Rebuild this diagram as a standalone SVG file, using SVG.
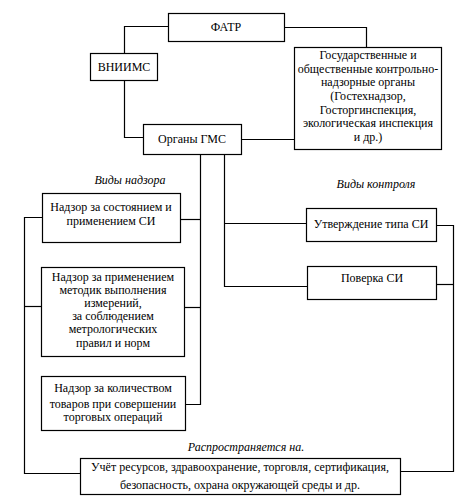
<svg xmlns="http://www.w3.org/2000/svg" width="469" height="503" viewBox="0 0 469 503">
<style>
.b{fill:#fff;stroke:#000;stroke-width:1.2}
.l{fill:none;stroke:#000;stroke-width:1.2}
text{font-family:"Liberation Serif","Times New Roman",serif;font-size:12px;fill:#000;text-anchor:middle}
.i{font-style:italic}
</style>
<rect width="469" height="503" fill="#fff"/>
<g id="connectors">
<polyline class="l" points="168,26.5 124.5,26.5 124.5,53"/>
<polyline class="l" points="124.5,80 124.5,137.5 143,137.5"/>
<polyline class="l" points="284,27.5 366.5,27.5 366.5,47"/>
<line class="l" x1="241" y1="139.5" x2="294" y2="139.5"/>
<polyline class="l" points="200.5,154 200.5,404.5 185,404.5"/>
<line class="l" x1="180" y1="219.5" x2="200.5" y2="219.5"/>
<line class="l" x1="184" y1="307.5" x2="200.5" y2="307.5"/>
<polyline class="l" points="224.5,154 224.5,286.5 307,286.5"/>
<line class="l" x1="224.5" y1="223.5" x2="306" y2="223.5"/>
<polyline class="l" points="42,217.5 24.5,217.5 24.5,473.5 80,473.5"/>
<line class="l" x1="24.5" y1="306.5" x2="41" y2="306.5"/>
<polyline class="l" points="436,225.5 453.5,225.5 453.5,471.5 400,471.5"/>
<line class="l" x1="436" y1="284.5" x2="453.5" y2="284.5"/>
</g>
<g id="fatr"><rect class="b" x="168.5" y="13.5" width="116" height="28"/><text x="226" y="31">ФАТР</text></g>
<g id="vniims"><rect class="b" x="90.5" y="53.5" width="67" height="27"/><text x="124" y="71">ВНИИМС</text></g>
<g id="gms"><rect class="b" x="143.5" y="124.5" width="98" height="30"/><text x="192" y="143">Органы ГМС</text></g>
<g id="gos"><rect class="b" x="294.5" y="47.5" width="147" height="102"/>
<text x="368" y="59">Государственные и</text>
<text x="368" y="73">общественные контрольно-</text>
<text x="368" y="86">надзорные органы</text>
<text x="368" y="100">(Гостехнадзор,</text>
<text x="368" y="114">Госторгинспекция,</text>
<text x="368" y="127">экологическая инспекция</text>
<text x="368" y="141">и др.)</text>
</g>
<g id="label-nadzor"><text class="i" x="130" y="184">Виды надзора</text></g>
<g id="label-kontrol"><text class="i" x="376" y="188">Виды контроля</text></g>
<g id="n1"><rect class="b" x="42.5" y="193.5" width="138" height="49"/>
<text x="111" y="211">Надзор за состоянием и</text>
<text x="111" y="225">применением СИ</text>
</g>
<g id="n2"><rect class="b" x="41.5" y="267.5" width="143" height="89"/>
<text x="113" y="281">Надзор за применением</text>
<text x="113" y="294">методик выполнения</text>
<text x="113" y="307">измерений,</text>
<text x="113" y="320">за соблюдением</text>
<text x="113" y="333">метрологических</text>
<text x="113" y="347">правил и норм</text>
</g>
<g id="n3"><rect class="b" x="41.5" y="376.5" width="144" height="54"/>
<text x="113" y="392">Надзор за количеством</text>
<text x="113" y="408">товаров при совершении</text>
<text x="113" y="421">торговых операций</text>
</g>
<g id="k1"><rect class="b" x="306.5" y="208.5" width="130" height="33"/><text x="371" y="228">Утверждение типа СИ</text></g>
<g id="k2"><rect class="b" x="307.5" y="266.5" width="129" height="33"/><text x="372" y="282">Поверка СИ</text></g>
<g id="label-spread"><text class="i" x="246" y="451">Распространяется на.</text></g>
<g id="bottom"><rect class="b" x="80.5" y="458.5" width="320" height="36"/>
<text x="240" y="471">Учёт ресурсов, здравоохранение, торговля, сертификация,</text>
<text x="240" y="489">безопасность, охрана окружающей среды и др.</text>
</g>
</svg>
